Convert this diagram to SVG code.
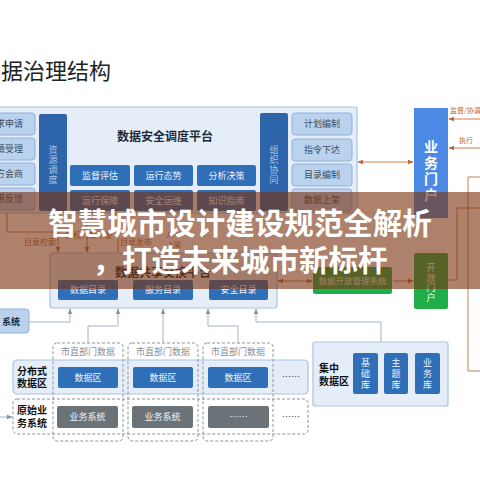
<svg xmlns="http://www.w3.org/2000/svg" width="480" height="480" viewBox="0 0 480 480">
<defs>
<style>
.t{font-family:"Noto Sans CJK SC","Noto Sans",sans-serif}
.panel{fill:#e5eef8;stroke:#a8c3e2;stroke-width:1.2}
.lb{fill:#bad2ee;stroke:#90b2dc;stroke-width:1}
.db{fill:#2f6fb7}
.dv{fill:#2e64aa}
.gb{fill:#6c7378}
.dash{fill:none;stroke:#8d9399;stroke-width:1;stroke-dasharray:3 2}
.ln{fill:none;stroke:#9fb4c8;stroke-width:1}
.ol{fill:none;stroke:#c97e52;stroke-width:1}
.s9{font-size:9px}
.wt{fill:#eef4fb}
.dk{fill:#3a4a5c}
</style>
<marker id="ab" viewBox="0 0 8 8" refX="7" refY="4" markerWidth="6" markerHeight="6" orient="auto-start-reverse"><path d="M0 1 L8 4 L0 7 Z" fill="#7e93aa"/></marker>
<marker id="ao" viewBox="0 0 8 8" refX="7" refY="4" markerWidth="6" markerHeight="6" orient="auto-start-reverse"><path d="M0 1 L8 4 L0 7 Z" fill="#b8683a"/></marker>
</defs>
<rect width="480" height="480" fill="#ffffff"/>
<text class="t" x="1" y="79" font-size="22" fill="#222">据治理结构</text>

<g id="upper-panel">
<rect class="panel" x="-5" y="107" width="362" height="106" rx="2"/>
<text class="t" x="165" y="141" font-size="12" font-weight="bold" fill="#1d2a3a" text-anchor="middle">数据安全调度平台</text>
</g>
<g id="left-col" class="t s9 dk" text-anchor="end">
<rect class="lb" x="-6" y="113" width="41" height="22" rx="3"/><text x="23" y="127">求申请</text>
<rect class="lb" x="-6" y="138" width="41" height="22" rx="3"/><text x="23" y="152">请受理</text>
<rect class="lb" x="-6" y="163" width="41" height="22" rx="3"/><text x="23" y="177">方会商</text>
<rect class="lb" x="-6" y="188" width="41" height="22" rx="3"/><text x="23" y="202">用反馈</text>
</g>
<g id="res-dispatch">
<rect class="dv" x="39" y="114" width="28" height="97" rx="2"/>
<text class="t s9" fill="#a9c7ec" text-anchor="middle"><tspan x="53" y="153">资</tspan><tspan x="53" y="163">源</tspan><tspan x="53" y="173">调</tspan><tspan x="53" y="183">度</tspan></text>
</g>
<g id="mid-boxes" class="t s9 wt" text-anchor="middle">
<rect class="db" x="70" y="165" width="60" height="21" rx="2"/><text x="100" y="179">监督评估</text>
<rect class="db" x="134" y="165" width="59" height="21" rx="2"/><text x="163.5" y="179">运行态势</text>
<rect class="db" x="197" y="165" width="59" height="21" rx="2"/><text x="226.5" y="179">分析决策</text>
<rect class="db" x="70" y="190" width="60" height="21" rx="2"/><text x="100" y="204">运行保障</text>
<rect class="db" x="134" y="190" width="59" height="21" rx="2"/><text x="163.5" y="204">安全运维</text>
<rect class="db" x="197" y="190" width="59" height="21" rx="2"/><text x="226.5" y="204">知识指南</text>
</g>
<g id="org-coord">
<rect class="dv" x="260" y="113" width="28" height="98" rx="2"/>
<text class="t s9" fill="#a9c7ec" text-anchor="middle"><tspan x="274" y="153">组</tspan><tspan x="274" y="163">织</tspan><tspan x="274" y="173">协</tspan><tspan x="274" y="183">同</tspan></text>
</g>
<g id="right-col" class="t s9 dk" text-anchor="middle">
<rect class="lb" x="292" y="113" width="60" height="22" rx="3"/><text x="322" y="127">计划编制</text>
<rect class="lb" x="292" y="139" width="60" height="22" rx="3"/><text x="322" y="153">指令下达</text>
<rect class="lb" x="292" y="164" width="60" height="22" rx="3"/><text x="322" y="178">目录编制</text>
<rect class="lb" x="292" y="189" width="60" height="22" rx="3"/><text x="322" y="203">数据上架</text>
</g>

<g id="biz-portal">
<rect x="414" y="108" width="34" height="110" fill="#4d8ae6"/>
<text class="t" font-size="14" font-weight="bold" fill="#ffffff" text-anchor="middle"><tspan x="431" y="152">业</tspan><tspan x="431" y="168">务</tspan><tspan x="431" y="184">门</tspan><tspan x="431" y="200">户</tspan></text>
</g>

<g id="share-panel">
<rect class="panel" x="50" y="253" width="227" height="55" rx="3"/>
<text class="t" x="163" y="277" font-size="12" font-weight="bold" fill="#1d2a3a" text-anchor="middle">数据共享交换平台</text>
<g class="t s9 wt" text-anchor="middle">
<rect class="db" x="58" y="280" width="60" height="20" rx="2"/><text x="88" y="293">数据目录</text>
<rect class="db" x="133" y="280" width="60" height="20" rx="2"/><text x="163" y="293">服务目录</text>
<rect class="db" x="209" y="280" width="59" height="20" rx="2"/><text x="238.5" y="293">安全目录</text>
</g>
</g>
<g id="open-mgmt">
<rect x="313" y="267" width="79" height="27" rx="2" fill="#1fae4a"/>
<text class="t" x="352.5" y="284" font-size="8.5" fill="#e9f7ec" text-anchor="middle">数据开放管理系统</text>
</g>
<g id="open-portal">
<rect x="414" y="253" width="34" height="56" rx="2" fill="#1fae4a"/>
<text class="t" font-size="9" fill="#ffffff" text-anchor="middle"><tspan x="431" y="271">开</tspan><tspan x="431" y="281">放</tspan><tspan x="431" y="291">门</tspan><tspan x="431" y="301">户</tspan></text>
</g>

<g id="sys-box">
<rect class="lb" x="-6" y="309" width="35" height="24" rx="3"/>
<text class="t" x="2" y="325" font-size="9" font-weight="bold" fill="#1d2a3a">系统</text>
</g>

<g id="dist-row">
<rect class="panel" x="13" y="360" width="295" height="34" rx="4"/>
<text class="t" font-size="10" font-weight="bold" fill="#111" text-anchor="middle"><tspan x="32" y="375">分布式</tspan><tspan x="32" y="387">数据区</tspan></text>
<g class="t s9 wt" text-anchor="middle">
<rect class="db" x="58" y="367" width="60" height="21" rx="2"/><text x="88" y="381">数据区</text>
<rect class="db" x="133" y="367" width="60" height="21" rx="2"/><text x="163" y="381">数据区</text>
<rect class="db" x="208" y="367" width="60" height="21" rx="2"/><text x="238" y="381">数据区</text>
</g>
<text class="t" x="291" y="380" font-size="9" fill="#333" text-anchor="middle">……</text>
</g>
<g id="raw-row">
<rect class="dash" x="13" y="399" width="295" height="35" rx="4"/>
<text class="t" font-size="10" font-weight="bold" fill="#111" text-anchor="middle"><tspan x="32" y="414">原始业</tspan><tspan x="32" y="427">务系统</tspan></text>
<g class="t s9 wt" text-anchor="middle">
<rect class="gb" x="57" y="406" width="61" height="22" rx="2"/><text x="87.5" y="420">业务系统</text>
<rect class="gb" x="132" y="406" width="61" height="22" rx="2"/><text x="162.5" y="420">业务系统</text>
<rect class="gb" x="208" y="406" width="61" height="22" rx="2"/><text x="238.5" y="420">……</text>
</g>
<text class="t" x="291" y="420" font-size="9" fill="#333" text-anchor="middle">……</text>
</g>
<g id="dept-cols" class="t" font-size="9" fill="#8a9098" text-anchor="middle">
<rect class="dash" x="53" y="343" width="70" height="98" rx="4"/><text x="88" y="355">市直部门数据</text>
<rect class="dash" x="128" y="343" width="70" height="98" rx="4"/><text x="163" y="355">市直部门数据</text>
<rect class="dash" x="203" y="343" width="70" height="98" rx="4"/><text x="238" y="355">市直部门数据</text>
</g>

<g id="central">
<rect class="panel" x="313" y="342" width="135" height="64" rx="2"/>
<text class="t" font-size="10" font-weight="bold" fill="#111"><tspan x="319" y="372">集中</tspan><tspan x="319" y="385">数据区</tspan></text>
<rect class="db" x="353" y="353" width="25" height="41" rx="2"/>
<rect class="db" x="384" y="353" width="24" height="41" rx="2"/>
<rect class="db" x="415" y="353" width="25" height="41" rx="2"/>
<text class="t s9 wt" text-anchor="middle"><tspan x="365.5" y="366">基</tspan><tspan x="365.5" y="377">础</tspan><tspan x="365.5" y="388">库</tspan></text>
<text class="t s9 wt" text-anchor="middle"><tspan x="396" y="366">主</tspan><tspan x="396" y="377">题</tspan><tspan x="396" y="388">库</tspan></text>
<text class="t s9 wt" text-anchor="middle"><tspan x="427.5" y="366">业</tspan><tspan x="427.5" y="377">务</tspan><tspan x="427.5" y="388">库</tspan></text>
</g>

<g id="connectors">
<path class="ol" d="M358 162 H413" marker-start="url(#ao)" marker-end="url(#ao)"/>
<path class="ol" d="M480 119 H449" marker-end="url(#ao)"/>
<path class="ol" d="M480 148 H449" marker-end="url(#ao)"/>
<text class="t" x="450" y="113" font-size="7" fill="#b8683a">监督/协调</text>
<text class="t" x="459" y="143" font-size="7" fill="#b8683a">执行</text>
<path class="ol" d="M480 177 H468 V371 H480"/>
<path class="ol" d="M449 280 H457 V208 H480"/>
<path class="ol" d="M7 213 V232 H58 V252" marker-end="url(#ao)"/>
<path class="ol" d="M87 213 V252" marker-end="url(#ao)"/>
<path class="ol" d="M118 226 V252"/>
<text class="t" x="24" y="245" font-size="8" fill="#b8683a">目录检索</text>
<text class="t" x="65" y="238" font-size="8" fill="#b8683a">授权内审下发</text>
<text class="t" x="120" y="245" font-size="8" fill="#b8683a">目录发布</text>
<text class="t" x="167" y="238" font-size="7" fill="#b8683a">API</text>
<text class="t" x="167" y="247" font-size="7" fill="#b8683a">上架</text>
<path class="ol" d="M278 281 H312" marker-start="url(#ao)" marker-end="url(#ao)"/>
<path class="ol" d="M393 281 H413" marker-end="url(#ao)"/>
<path class="ln" d="M29 322 H70 V309" marker-end="url(#ab)"/>
<path class="ln" d="M88 343 V326 H118 V309" marker-end="url(#ab)"/>
<path class="ln" d="M163 343 V309" marker-end="url(#ab)"/>
<path class="ln" d="M238 343 V326 H208 V309" marker-end="url(#ab)"/>
<path class="ln" d="M381 342 V322 H256 V309" marker-end="url(#ab)"/>
<path class="ln" d="M0 417 H12" marker-end="url(#ab)"/>
</g>

<g id="overlay">
<rect x="0" y="192" width="480" height="97" fill="#7a3410" opacity="0.62"/>
<text class="t" x="240" y="234" font-size="29.5" font-weight="bold" fill="#ffffff" text-anchor="middle">智慧城市设计建设规范全解析</text>
<text class="t" x="240" y="271" font-size="29.5" font-weight="bold" fill="#ffffff" text-anchor="middle">，打造未来城市新标杆</text>
</g>
</svg>
